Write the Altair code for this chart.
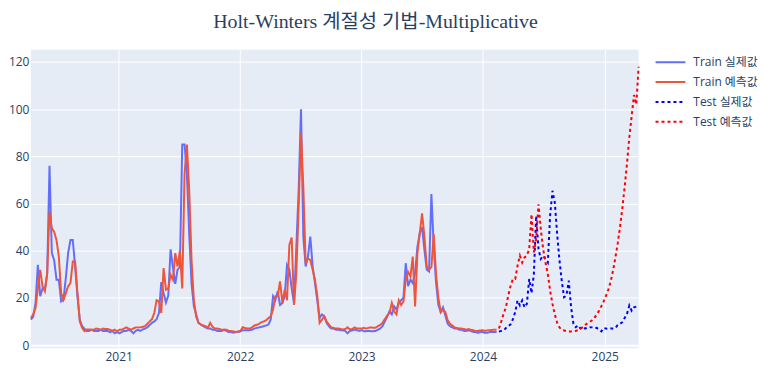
import altair as alt
import pandas as pd

start_date = "2020-04-12"

train_actual = [
    10.8, 12, 17.8, 34, 20.7, 24, 23.5, 30, 76, 39, 36, 27.7, 27.7, 18.5, 19.2, 28.4, 39, 44.5, 44.5, 33.3, 20.7, 10.8, 8, 6.9, 5.9,
    6, 6.5, 6, 6, 6, 6.5, 6, 6, 6, 5.5, 6, 5, 5.5, 5,
    5.5, 6, 6, 6.5, 6, 5,
    6, 6.5, 6, 6.6, 7, 7.5, 8.5, 9.4, 10, 11,
    13.6, 26.7, 22, 18, 21, 40.6, 33, 26, 32, 33, 85, 85, 72.7, 47, 26, 16.4, 13, 9.4, 8.7,
    8, 7.5, 7, 7, 6.5, 6.5, 6, 6, 6, 6.5, 6, 5.5, 5.5, 5.2, 5.5, 5.5, 5.8, 6.3, 6.3, 6.3, 6.3, 6.5, 7, 7.3, 7.5,
    7.7, 8, 8.3, 8.7, 10.8, 20.7, 19, 22.8, 17, 17.8, 20.7, 34, 32, 24, 17.8, 41.7, 65.6, 100, 46, 33.3, 37.5, 46, 33.3, 26.3, 19, 11.5, 13, 12.2, 9.4, 8,
    7, 7, 6.5, 6.5, 6.3, 6.3, 6, 5, 6, 6.3, 6.5, 6.3, 6, 6.3, 5.9, 5.9, 6, 5.9, 5.9, 6, 6.5, 7,
    8, 10, 12, 14.3, 13, 16.4, 15, 17.8, 19, 20, 34.7, 25, 27.7, 26.3, 30.5, 41.7, 47.4, 50, 40.3, 32, 31.2, 64, 42, 26.5, 17, 14, 16, 12.5, 9, 8, 7.5,
    7, 7, 6.5, 6.5, 6, 6, 6.3, 6, 5.5, 5.5, 5.2, 5.5, 5.5, 5.2, 5.2, 5.5, 5.5, 5.5, 5.5,
]

train_pred = [
    11.5, 13, 15.7, 24, 31.9, 24.9, 22.8, 30.5, 56.5, 49.5, 48, 44.5, 37.5, 22, 19.2, 22, 24.9, 26.3, 35.4, 35.4, 22, 10, 7.3, 5.9, 6.6,
    6.6, 6.5, 6.5, 7, 6.8, 6.5, 7, 6.8, 6.8, 6.5, 6, 6.5, 5.8, 6.5,
    6.5, 7, 7.5, 7, 6.5, 7, 7.5, 7.5, 7.5,
    7.7, 8, 9, 10, 11, 13.6, 19, 18.5, 13.6, 32.6, 23.5, 24, 29.8, 27.7, 39, 33.3, 40, 24, 72.7, 85, 65.6, 36, 19, 12, 9.4, 8.7, 8.3, 8, 7.3, 9.4, 7.7,
    7, 7, 6.8, 6.5, 6.5, 6.5, 6, 6, 5.8, 5.5, 5.8, 6, 7.6, 7.2, 7, 7, 7.5, 8.3, 8.6, 9,
    9.7, 10, 10.5, 11.4, 12.2, 15, 20.7, 20.7, 27, 17.8, 23.5, 19, 42.4, 45.6, 17, 30.5, 58.6, 90, 67, 34.7, 36.8, 36, 32, 27.7, 20.7, 9.4, 10.8, 12.2, 10, 8.7,
    7.5, 7.3, 7, 7, 6.8, 6.6, 6.8, 7.5, 6.6, 6.8, 7.5, 7, 7, 7, 7.3, 7, 7.3, 7.5, 7.3, 7.3, 8, 8.5,
    9.4, 11, 12.5, 13.6, 17.8, 14.3, 13, 19, 17, 18.5, 27.7, 31, 29, 37.5, 16.4, 39, 47.4, 55.8, 46, 33.3, 32, 33, 47, 30, 20, 14, 15, 14, 10.5, 9, 8.3,
    7.5, 7.2, 7, 7, 6.8, 6.5, 6.8, 6.5, 6.3, 6, 6, 6.2, 6.3, 6, 6.2, 6.3, 6.4, 6.5, 6.5,
]

test_actual = [
    5.7, 6, 6.2, 7.2, 8, 8.8, 11, 14, 18.9, 16.8,
    18.9, 16, 17.5, 28, 22, 30, 54.8, 40.7, 36.5, 37.9,
    36.5, 35, 55, 65.4, 60.4, 47, 36, 27, 20.3, 21,
    27.3, 16, 9, 7.6, 8.3, 7, 7.6, 7, 7.5, 7.6,
    7.5, 7.2, 7.3, 6.5, 5.8, 7.2, 7, 6.9, 7, 7,
    7.2, 8.5, 9, 9.7, 11.5, 13.2, 16.8, 14.6, 16, 16.3, 16.3,
]

test_pred = [
    7, 10, 13.2, 16, 21, 25, 28, 28, 33.7, 37.9,
    35, 37.2, 37.9, 40.7, 55.5, 39.3, 45, 59.7, 49, 40.7,
    35, 30, 23, 17.5, 13, 9.5, 7.5, 6.5, 6.2, 5.9,
    5.8, 5.8, 5.9, 6, 6.4, 7, 7.6, 8.5, 9.2, 9.8,
    10.5, 11.5, 13, 14.5, 16.5, 18.5, 21, 23.5, 27, 31.5,
    37, 43, 50, 58, 67, 77, 88, 97, 106, 102, 118,
]

series_names = ["Train 실제값", "Train 예측값", "Test 실제값", "Test 예측값"]
series_colors = ["#636EFA", "#EF553B", "#0000FF", "#FF0000"]
series_dashes = [[1, 0], [1, 0], [3, 3], [3, 3]]
y_ticks = [0, 20, 40, 60, 80, 100, 120]
title_text = "Holt-Winters 계절성 기법-Multiplicative"

train_dates = pd.date_range(start_date, periods=len(train_actual), freq="7D")
test_dates = pd.date_range(train_dates[-1] + pd.Timedelta(days=7), periods=len(test_actual), freq="7D")

frames = []
for name, dates, vals in [
    (series_names[0], train_dates, train_actual),
    (series_names[1], train_dates, train_pred),
    (series_names[2], test_dates, test_actual),
    (series_names[3], test_dates, test_pred),
]:
    frames.append(pd.DataFrame({"date": dates.strftime("%Y-%m-%dT00:00:00"), "value": vals, "series": name}))
df = pd.concat(frames, ignore_index=True)

d0, d1 = train_dates[0], test_dates[-1]
x_scale = alt.Scale(
    domain=[alt.DateTime(year=d0.year, month=d0.month, date=d0.day),
            alt.DateTime(year=d1.year, month=d1.month, date=d1.day)],
    nice=False,
)

legend = alt.Legend(
    title=None, orient="none", legendX=627, legendY=4,
    symbolType="M-1,0H3", symbolSize=225, symbolStrokeWidth=2,
    labelFont="Open Sans, Noto Sans CJK KR", labelFontSize=12, labelColor="#2a3f5f",
    labelOffset=22, rowPadding=5, labelLimit=200,
)

base = alt.Chart(df).mark_line(strokeWidth=2).encode(
    x=alt.X("date:T", scale=x_scale, title=None,
            axis=alt.Axis(format="%Y", tickCount={"interval": "year", "step": 1},
                          labelPadding=3, labelFlush=False)),
    y=alt.Y("value:Q", scale=alt.Scale(domain=[-1.3, 125.2], nice=False, zero=False), title=None,
            axis=alt.Axis(values=y_ticks, labelPadding=2,
                          gridWidth={"condition": {"test": "datum.value === 0", "value": 2}, "value": 1})),
    color=alt.Color("series:N", scale=alt.Scale(domain=series_names, range=series_colors), legend=legend),
    strokeDash=alt.StrokeDash("series:N", scale=alt.Scale(domain=series_names, range=series_dashes), legend=legend),
)

layers = [base.transform_filter(alt.datum.series == n) for n in series_names]

chart = alt.layer(*layers).properties(
    width=611, height=300,
    autosize=alt.AutoSizeParams(type="none"),
    padding={"left": 23, "top": 41, "right": 120, "bottom": 16},
    title=alt.TitleParams(
        text=title_text, font="Liberation Serif, Noto Sans CJK KR", fontSize=20,
        fontWeight="normal", color="#2a3f5f", anchor="middle", dx=41,
        baseline="alphabetic", offset=2,
    ),
).configure(background="white").configure_view(
    fill="#E5ECF6", stroke=None
).configure_axis(
    domain=False, ticks=False, grid=True, gridColor="white",
    labelFont="Open Sans", labelFontSize=12, labelColor="#2a3f5f",
)

chart.save("out.html", embed_options={"renderer": "svg", "actions": False})
